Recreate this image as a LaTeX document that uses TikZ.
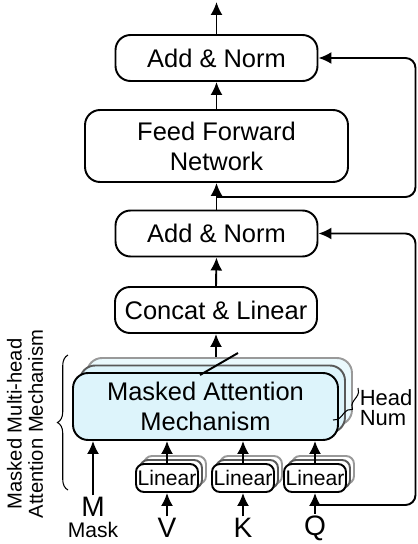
\documentclass[tikz,border=0pt]{standalone}
\usepackage{fontspec}
\setmainfont{Liberation Sans}
\usetikzlibrary{arrows.meta,decorations.pathreplacing}
\definecolor{attfill}{RGB}{221,244,251}
\definecolor{attback}{RGB}{234,249,253}
\tikzset{every path/.style={line width=1.1pt}}

\begin{document}
\begin{tikzpicture}[x=0.02cm,y=-0.02cm,
  blk/.style={draw,rounded corners=0.3cm,align=center,inner sep=0pt,font=\fontsize{14.5}{17}\selectfont},
  lin/.style={draw,fill=white,rounded corners=0.16cm,inner sep=0pt,minimum width=1.24cm,minimum height=0.56cm,font=\fontsize{12}{12}\selectfont},
  arr/.style={-{Latex[length=2.6mm,width=2.4mm]}},
  lbl/.style={font=\fontsize{16}{17}\selectfont,inner sep=0.5pt}]
\useasboundingbox (0,0) rectangle (417,544);
% encoder-style block
\node[blk,minimum width=4.04cm,minimum height=0.92cm] (an1) at (216.5,58) {Add \& Norm};
\node[blk,minimum width=5.26cm,minimum height=1.44cm] (ffn) at (216.5,146) {Feed Forward\\Network};
\node[blk,minimum width=4.04cm,minimum height=0.92cm] (an2) at (216.5,233.5) {Add \& Norm};
\node[blk,minimum width=4.04cm,minimum height=0.92cm] (cat) at (216,310) {Concat \& Linear};
% heads
\node[blk,draw=black!40,fill=attback,minimum width=5.3cm,minimum height=1.34cm] (att3) at (219.5,391.5) {};
\node[blk,draw=black!65,fill=attfill,minimum width=5.3cm,minimum height=1.34cm] (att2) at (212.5,399) {};
\node[blk,fill=attfill,minimum width=5.3cm,minimum height=1.34cm] (att) at (205.5,406.5) {Masked Attention\\Mechanism};
\foreach \n/\x in {lin1/167,lin2/243,lin3/315}{
  \node[lin,draw=black!40] at (\x+8,470) {};
  \node[lin,draw=black!65] at (\x+4,474) {};
  \node[lin] (\n) at (\x,478) {Linear};
}
% inputs
\node[lbl] (m) at (93,507) {M};
\node[font=\fontsize{12}{12}\selectfont,inner sep=0.5pt] (mask) at (93,530) {Mask};
\node[lbl] (v) at (167,528) {V};
\node[lbl] (k) at (243,528) {K};
\node[lbl] (q) at (315,528) {Q};
% arrows
\coordinate (out) at (216.5,2);
\draw[arr] (an1.north) -- (out);
\draw[arr] (ffn.north) -- (an1.south);
\draw[arr] (an2.north) -- (ffn.south);
\draw[arr] (cat.north) -- (an2.south);
\draw[arr] (att3.north -| cat) -- (cat.south);
\draw (200,375) -- (238,353);
\draw[arr] (m.north) -- (att.south -| m);
\foreach \l/\n in {v/lin1,k/lin2,q/lin3}{
  \draw[arr] (\l.north) -- (\n.south);
  \draw[arr] (\n.north) -- (att.south -| \n);
}
% residuals
\coordinate (fork1) at (216.5,197);
\coordinate (r1) at (415.5,197);
\draw[arr,rounded corners=0.2cm] (fork1) -- (r1) |- (an1.east);
\coordinate (fork2) at (315,505);
\coordinate (r2) at (415.5,505);
\draw[arr,rounded corners=0.2cm] (fork2) -- (r2) |- (an2.east);
% braces
\draw[decorate,decoration={brace,amplitude=6pt},line width=0.6pt] (68,490) -- (68,355);
\draw[decorate,decoration={brace,amplitude=5pt},line width=0.6pt] (358,388) -- (333,420);
\node[font=\fontsize{12.5}{11.5}\selectfont,align=left] (hn) at (386,408) {Head\\Num};
\node[rotate=90,align=center,font=\fontsize{11.5}{12}\selectfont] (lab) at (25,424) {Masked Multi-head\\Attention Mechanism};
\end{tikzpicture}
\end{document}
